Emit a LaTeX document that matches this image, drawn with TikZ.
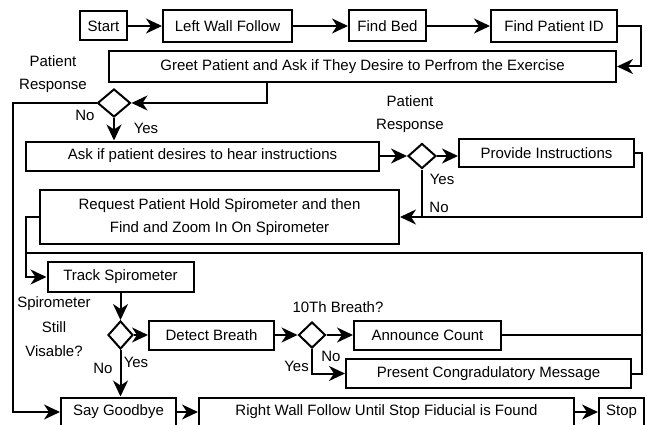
\documentclass[tikz,border=0pt]{standalone}
\usepackage{fontspec}
\setmainfont{Liberation Sans}
\usetikzlibrary{arrows.meta,shapes.geometric}

\begin{document}
\begin{tikzpicture}[->,>={Stealth[length=16pt,width=15pt,inset=5pt]},x=1pt,y=-1pt,
                    line width=2pt,font=\fontsize{15}{23}\selectfont]

  \tikzstyle{block}=[rectangle,draw,inner sep=0pt,align=center]
  \tikzstyle{decision}=[diamond,draw,inner sep=0pt]
  \tikzstyle{note}=[inner sep=0pt,align=center]

  \useasboundingbox (0,0) rectangle (647,425);

  \node[block,minimum width=47pt,minimum height=29pt]  (start)    at (103.5,26) {Start};
  \node[block,minimum width=129pt,minimum height=32pt] (leftwall) at (227.5,26) {Left Wall Follow};
  \node[block,minimum width=77pt,minimum height=31pt]  (findbed)  at (387.5,26) {Find Bed};
  \node[block,minimum width=126pt,minimum height=32pt] (findid)   at (554,26)   {Find Patient ID};

  \node[block,minimum width=507pt,minimum height=31pt] (greet) at (362.5,66.5)
        {Greet Patient and Ask if They Desire to Perfrom the Exercise};
  \node[decision,minimum width=33pt,minimum height=28pt] (dec1) at (114,103) {};

  \node[block,minimum width=353pt,minimum height=29pt] (ask)     at (202.5,156) {Ask if patient desires to hear instructions};
  \node[decision,minimum width=28pt,minimum height=25pt] (dec2)  at (422,156) {};
  \node[block,minimum width=175pt,minimum height=28pt] (provide) at (546.5,153) {Provide Instructions};

  \node[block,minimum width=359pt,minimum height=54pt] (request) at (219.5,217)
        {Request Patient Hold Spirometer and then\\Find and Zoom In On Spirometer};

  \node[block,minimum width=146pt,minimum height=30pt] (track) at (120.5,277) {Track Spirometer};

  \node[decision,minimum width=25pt,minimum height=28pt] (dec3)     at (120.5,335) {};
  \node[block,minimum width=125pt,minimum height=29pt]   (detect)   at (211.5,335) {Detect Breath};
  \node[decision,minimum width=27pt,minimum height=26pt] (dec4)     at (312,335) {};
  \node[block,minimum width=147pt,minimum height=29pt]   (announce) at (427.5,335) {Announce Count};
  \node[block,minimum width=285pt,minimum height=29pt]   (congrat)  at (488.5,373.5) {Present Congradulatory Message};

  \node[block,minimum width=115pt,minimum height=29pt] (goodbye)   at (118.5,412) {Say Goodbye};
  \node[block,minimum width=375pt,minimum height=29pt] (rightwall) at (386.5,412) {Right Wall Follow Until Stop Fiducial is Found};
  \node[block,minimum width=45pt,minimum height=29pt]  (stop)      at (621.5,412) {Stop};

  % answers and questions
  \node[note] (resp1)  at (53,74)    {Patient\\Response};
  \node[note] (no1)    at (85,115)   {No};
  \node[note] (yes1)   at (146,128)  {Yes};
  \node[note] (resp2)  at (410,114)  {Patient\\Response};
  \node[note] (yes2)   at (442,179)  {Yes};
  \node[note] (no2)    at (439,207)  {No};
  \node[note] (visq)   at (54,327)   {Spirometer\\[1.5pt]Still\\[1.5pt]Visable?};
  \node[note] (no3)    at (103,368)  {No};
  \node[note] (yes3)   at (136,362)  {Yes};
  \node[note] (tenq)   at (338,307)  {10Th Breath?};
  \node[note] (no4)    at (331,356)  {No};
  \node[note] (yes4)   at (296.5,366) {Yes};

  \coordinate (loopcorner) at (642,253);
  \coordinate (loopjoin)   at (26,253);

  \draw (start) -- (leftwall);
  \draw (leftwall) -- (findbed);
  \draw (findbed) -- (findid);
  \draw (findid.east) -- ++(23,0) |- (greet.east);
  \draw ([xshift=-95.5pt]greet.south) |- (dec1.east);
  \draw (dec1.south) -- (dec1.south |- ask.north);
  \draw (dec1.west) -- ++(-83.5,0) |- (goodbye.west);

  \draw (ask) -- (dec2);
  \draw (dec2.east) -- (dec2.east -| provide.west);
  \draw (provide.east) -- ++(7,0) |- (request.east);
  \draw[-] (dec2.south) -- (dec2.south |- request.east);
  \draw (request.west) -- ++(-13,0) |- (track.west);

  \draw (track) -- (dec3);
  \draw (dec3) -- (detect);
  \draw (detect) -- (dec4);
  \draw (dec4) -- (announce);
  \draw (dec4.south) |- (congrat.west);
  \draw[-] (congrat.east) -| (loopcorner) -- (loopjoin);
  \draw[-] (announce.east) -- (announce.east -| loopcorner);

  \draw (dec3.south) -- (dec3.south |- goodbye.north);
  \draw (goodbye) -- (rightwall);
  \draw (rightwall) -- (stop);
\end{tikzpicture}
\end{document}
